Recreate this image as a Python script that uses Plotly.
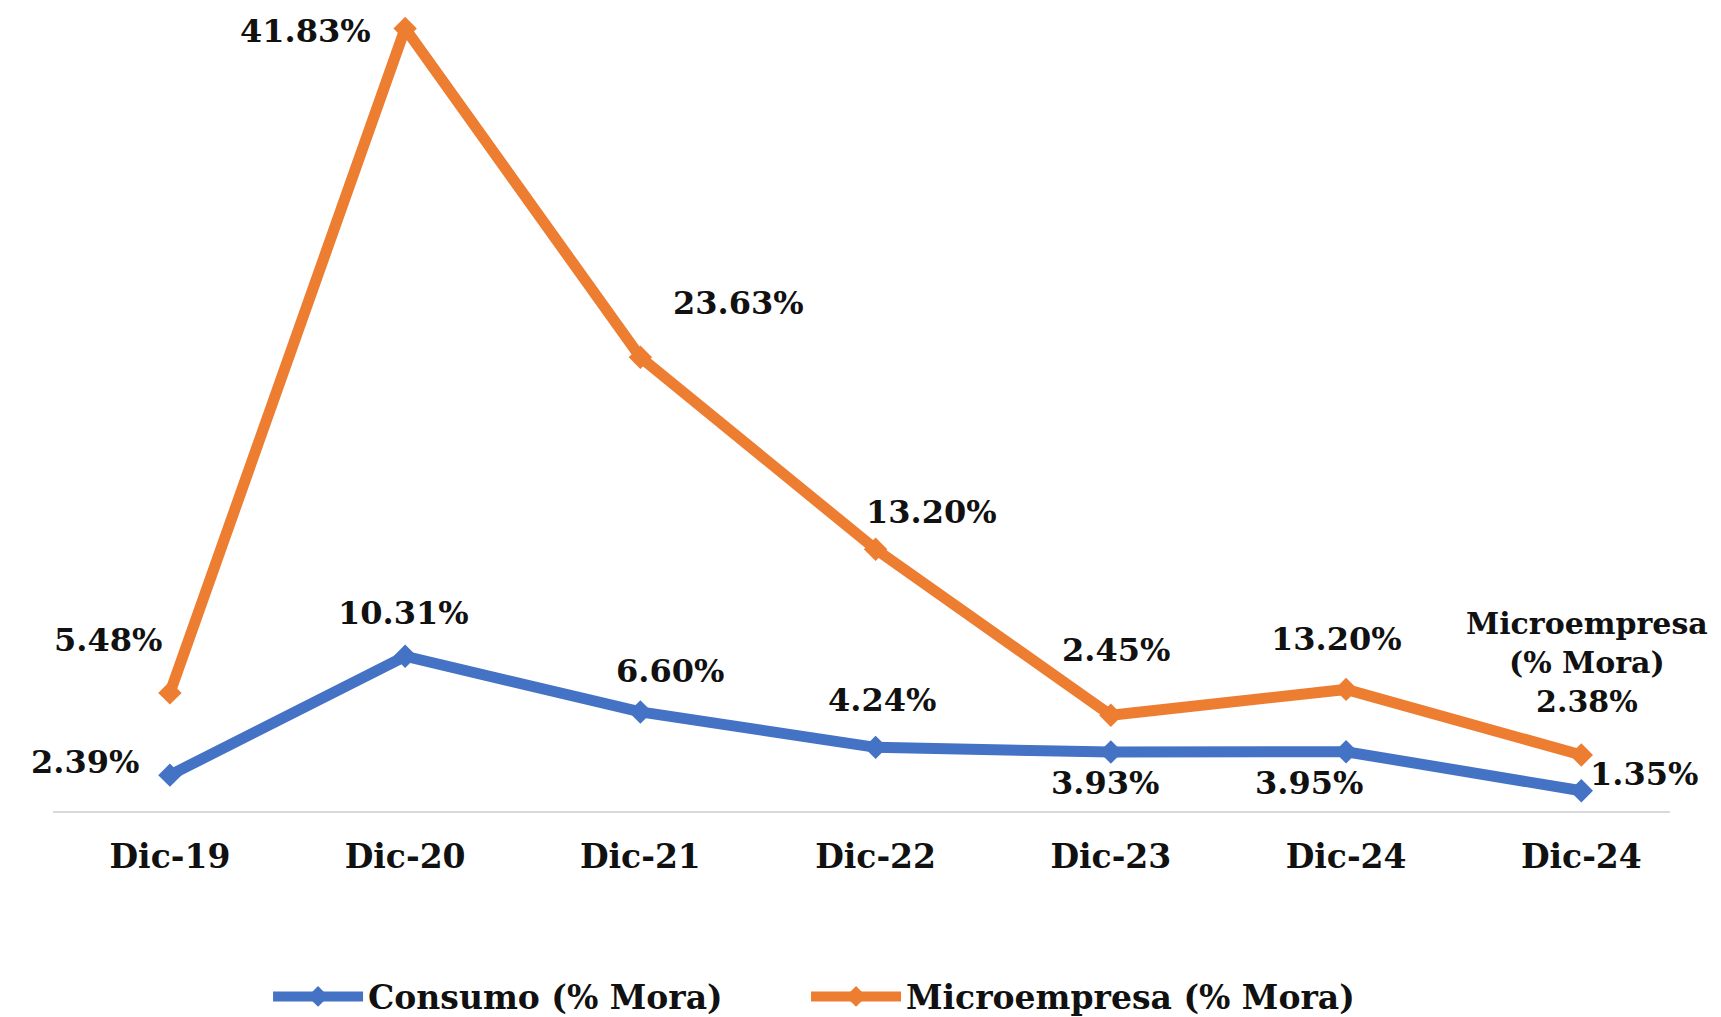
import numpy as np
import plotly.graph_objects as go

# datos del gráfico (mora %)
periodos = ["Dic-19", "Dic-20", "Dic-21", "Dic-22", "Dic-23", "Dic-24", "Dic-24"]
consumo = [2.39, 10.31, 6.60, 4.24, 3.93, 3.95, 1.35]
microempresa = [5.48, 41.83, 23.63, 13.20, 2.45, 4.15, 2.38]
etiquetas_consumo = ["2.39%", "10.31%", "6.60%", "4.24%", "3.93%", "3.95%", "1.35%"]
etiquetas_micro = ["5.48%", "41.83%", "23.63%", "13.20%", "2.45%", "13.20%",
                   "Microempresa<br>(% Mora)<br>2.38%"]

AZUL = "#4472C4"
NARANJA = "#ED7D31"
FUENTE = "DejaVu Serif"

x = list(range(len(periodos)))
tope = np.array(consumo) + np.array(microempresa)

fig = go.Figure()
fig.add_trace(go.Scatter(x=x, y=consumo, name="Consumo (% Mora)", stackgroup="mora", fill="none",
                         mode="lines+markers", line=dict(color=AZUL, width=11),
                         marker=dict(symbol="diamond", size=18, color=AZUL), legend="legend"))
fig.add_trace(go.Scatter(x=x, y=microempresa, name="Microempresa (% Mora)", stackgroup="mora", fill="none",
                         mode="lines+markers", line=dict(color=NARANJA, width=11),
                         marker=dict(symbol="diamond", size=18, color=NARANJA), legend="legend2"))

# desplazamientos de las etiquetas (px)
off_consumo = [(-85, 13), (-2, 43), (30, 41), (6, 47), (-6, -31), (-37, -31), (63, 17)]
off_micro = [(-62, 53), (-100, -3), (98, 54), (56, 37), (5, 65), (-10, 50), (6, 93)]

for i in x:
    tam = 30 if i == len(x) - 1 else 32
    fig.add_annotation(x=i, y=consumo[i], text=etiquetas_consumo[i], showarrow=False,
                       xshift=off_consumo[i][0], yshift=off_consumo[i][1],
                       font=dict(family=FUENTE, size=32, color="#111111", weight="bold"))
    fig.add_annotation(x=i, y=tope[i], text=etiquetas_micro[i], showarrow=False,
                       xshift=off_micro[i][0], yshift=off_micro[i][1],
                       font=dict(family=FUENTE, size=tam, color="#111111", weight="bold"))

fig.update_xaxes(range=[-0.497, 6.377], tickvals=x, ticktext=periodos, showgrid=False, zeroline=False,
                 showline=True, linecolor="#D9D9D9", linewidth=2, ticks="outside", ticklen=15,
                 tickcolor="rgba(0,0,0,0)",
                 tickfont=dict(family=FUENTE, size=33, color="#111111", weight="bold"))
fig.update_yaxes(range=[0, 53.5], visible=False, showgrid=False, zeroline=False)

leyenda = dict(orientation="h", xanchor="left", y=-0.231, yanchor="middle",
               font=dict(family=FUENTE, size=33, color="#111111", weight="bold"), itemwidth=90)

fig.update_layout(width=1721, height=1017, plot_bgcolor="white", paper_bgcolor="white",
                  margin=dict(l=45, r=59, t=0, b=207),
                  showlegend=True,
                  legend=dict(leyenda, x=0.133),
                  legend2=dict(leyenda, x=0.4657))

fig.write_html("out.html")
